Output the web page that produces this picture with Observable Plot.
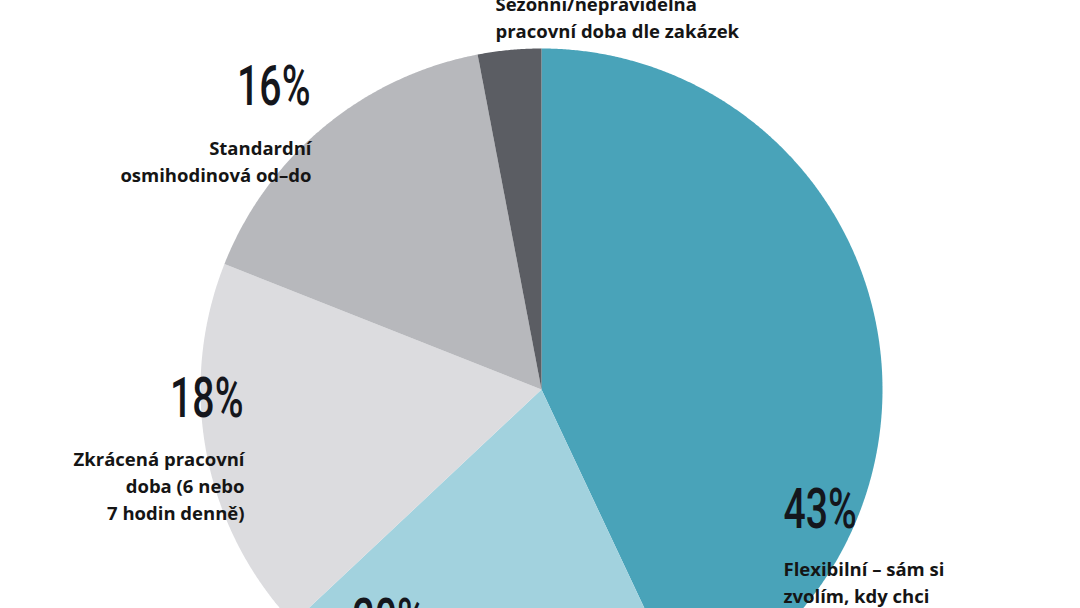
<!DOCTYPE html>
<html><head><meta charset="utf-8">
<script src="https://cdn.jsdelivr.net/npm/d3@7"></script>
<script src="https://cdn.jsdelivr.net/npm/@observablehq/plot@0.6"></script>
<style>
body{margin:0;background:#fff;}
#chart{width:1080px;height:608px;overflow:hidden;}
</style>
</head><body><div id="chart"></div>
<script>
// ---- data ----
const categories = [
  "Flexibilní – sám si zvolím, kdy chci",
  "(popisek mimo výřez)",
  "Zkrácená pracovní doba (6 nebo 7 hodin denně)",
  "Standardní osmihodinová od–do",
  "Sezónní/nepravidelná pracovní doba dle zakázek"
];
const shares = [43, 20, 18, 16, 3];
const labelLines = [
  "Flexibilní – sám si\nzvolím, kdy chci",
  "",
  "Zkrácená pracovní\ndoba (6 nebo\n7 hodin denně)",
  "Standardní\nosmihodinová od–do",
  "Sezónní/nepravidelná\npracovní doba dle zakázek"
];
const sliceColors = ["#49a3b9", "#a2d2de", "#dcdcdf", "#b7b8bc", "#5b5d63"];

// ---- layout (pixels) ----
const W = 1080, H = 608, CX = 541, CY = 389, R = 341;
const toX = px => (px - CX) / R;
const toY = py => (CY - py) / R;
const pctPos = [
  {px: 783, py: 488, anchor: "start"},
  {px: 352, py: 598, anchor: "start"},
  {px: 243, py: 377, anchor: "end"},
  {px: 310, py: 65, anchor: "end"},
  null
];
const labelPos = [
  {px: 783, py: 556, anchor: "start"},
  null,
  {px: 244, py: 446, anchor: "end"},
  {px: 311, py: 135, anchor: "end"},
  {px: 495, py: -9, anchor: "start"}
];

// ---- slices from data ----
const arcs = d3.pie().sort(null).value(d => d)(shares);
const slicePts = [];
arcs.forEach((a, i) => {
  slicePts.push({cat: categories[i], x: 0, y: 0});
  const n = Math.max(2, Math.ceil((a.endAngle - a.startAngle) / 0.005));
  for (let k = 0; k <= n; k++) {
    const t = a.startAngle + (a.endAngle - a.startAngle) * k / n;
    slicePts.push({cat: categories[i], x: Math.sin(t), y: Math.cos(t)});
  }
});

const pctData = shares.map((v, i) => ({text: `${v}%`, pos: pctPos[i]})).filter(d => d.pos);
const labData = labelLines.map((t, i) => ({text: t, pos: labelPos[i]})).filter(d => d.pos && d.text);

const pctFont = {fontFamily: "Roboto", fontWeight: 500, fontSize: 56, fill: "#14161c", lineAnchor: "top"};
const labFont = {fontFamily: "Open Sans", fontWeight: 700, fontSize: 18.5, fill: "#151515", lineAnchor: "top", lineHeight: 1.46};

const textMarks = [];
for (const anchor of ["start", "end"]) {
  textMarks.push(Plot.text(pctData.filter(d => d.pos.anchor === anchor), {
    x: d => toX(d.pos.px), y: d => toY(d.pos.py), text: "text", textAnchor: anchor, ...pctFont
  }));
  textMarks.push(Plot.text(labData.filter(d => d.pos.anchor === anchor), {
    x: d => toX(d.pos.px), y: d => toY(d.pos.py), text: "text", textAnchor: anchor, ...labFont
  }));
}

const chart = Plot.plot({
  width: W, height: H,
  margin: 0,
  x: {domain: [toX(0), toX(W)], axis: null},
  y: {domain: [toY(H), toY(0)], axis: null},
  color: {domain: categories, range: sliceColors},
  style: {background: "#fff", overflow: "hidden"},
  marks: [
    Plot.line(slicePts, {x: "x", y: "y", z: "cat", fill: "cat", stroke: "none", curve: "linear-closed"}),
    ...textMarks
  ]
});
document.getElementById("chart").appendChild(chart);

// condense the percentage figures horizontally
chart.querySelectorAll("text").forEach(el => {
  if (/%$/.test(el.textContent.trim())) {
    el.setAttribute("transform", (el.getAttribute("transform") || "") + " scale(0.7,1)");
  }
});
</script>
</body></html>
